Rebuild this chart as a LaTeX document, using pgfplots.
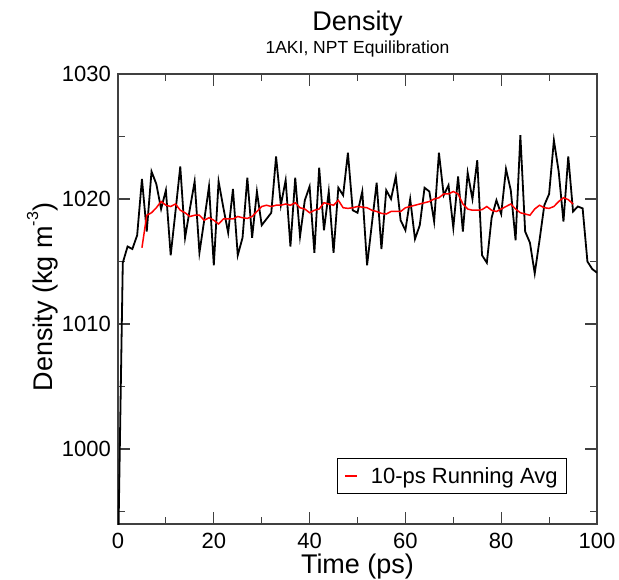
\documentclass[border=0pt]{standalone}
\usepackage{fontspec}
\setmainfont{Liberation Sans}
\usepackage{pgfplots}
\usepackage{pgfplotstable}
\pgfplotsset{compat=1.18}
\pgfplotstableread{
t rho
0 991
1 1014.9
2 1016.2
3 1016.0
4 1017.1
5 1021.6
6 1017.4
7 1022.2
8 1021.2
9 1019.2
10 1020.7
11 1015.5
12 1019.0
13 1022.6
14 1016.9
15 1019.2
16 1021.4
17 1015.7
18 1018.3
19 1021.0
20 1014.7
21 1021.4
22 1019.3
23 1017.3
24 1020.8
25 1015.5
26 1016.9
27 1021.7
28 1016.9
29 1020.6
30 1017.9
31 1018.4
32 1018.9
33 1023.4
34 1019.5
35 1021.5
36 1016.2
37 1021.7
38 1017.0
39 1019.9
40 1021.0
41 1015.7
42 1022.5
43 1017.5
44 1020.6
45 1015.7
46 1020.9
47 1020.3
48 1023.7
49 1019.1
50 1018.9
51 1020.6
52 1014.7
53 1018.0
54 1021.3
55 1016.0
56 1020.7
57 1020.0
58 1021.8
59 1018.3
60 1017.5
61 1020.0
62 1016.8
63 1017.9
64 1020.9
65 1020.6
66 1018.2
67 1023.7
68 1020.3
69 1021.1
70 1017.7
71 1021.8
72 1017.4
73 1022.1
74 1020.0
75 1023.1
76 1015.5
77 1014.9
78 1018.5
79 1019.9
80 1018.8
81 1022.4
82 1020.7
83 1016.7
84 1025.1
85 1017.4
86 1016.5
87 1014.05
88 1016.7
89 1019.5
90 1020.4
91 1024.7
92 1022.2
93 1018.2
94 1023.4
95 1019.0
96 1019.4
97 1019.25
98 1015.0
99 1014.4
100 1014.1
}\densdata
\pgfplotstableread{
t avg
5 1016.1
6 1018.7
7 1018.9
8 1019.3
9 1019.8
10 1019.5
11 1019.4
12 1019.6
13 1019.1
14 1018.9
15 1018.6
16 1018.7
17 1018.7
18 1018.3
19 1018.5
20 1018.3
21 1018.0
22 1018.4
23 1018.4
24 1018.4
25 1018.6
26 1018.5
27 1018.45
28 1018.6
29 1019.0
30 1019.4
31 1019.5
32 1019.4
33 1019.5
34 1019.5
35 1019.6
36 1019.5
37 1019.7
38 1019.3
39 1019.2
40 1018.9
41 1019.1
42 1019.2
43 1019.7
44 1019.6
45 1019.5
46 1019.9
47 1019.3
48 1019.25
49 1019.3
50 1019.4
51 1019.35
52 1019.3
53 1019.1
54 1019.0
55 1018.85
56 1018.8
57 1019.0
58 1019.0
59 1019.0
60 1019.3
61 1019.4
62 1019.5
63 1019.6
64 1019.7
65 1019.8
66 1020.0
67 1020.1
68 1020.4
69 1020.4
70 1020.6
71 1020.4
72 1019.6
73 1019.2
74 1019.1
75 1019.1
76 1019.15
77 1019.4
78 1019.1
79 1019.0
80 1019.2
81 1019.4
82 1019.6
83 1019.2
84 1018.9
85 1018.8
86 1018.7
87 1019.2
88 1019.5
89 1019.3
90 1019.25
91 1019.4
92 1019.8
93 1020.1
94 1019.95
95 1019.6
}\avgdata
\begin{document}
\begin{tikzpicture}
\useasboundingbox (-118pt,-55pt) rectangle (501pt,524pt);
\begin{axis}[
  at={(0pt,0pt)}, anchor=south west,
  width=479pt, height=450pt, scale only axis,
  xmin=0, xmax=100, ymin=994, ymax=1030,
  xtick={0,20,...,100}, minor xtick={10,30,...,90},
  ytick={1000,1010,1020,1030}, minor ytick={995,1005,1015,1025},
  tick align=inside,
  major tick length=12pt, minor tick length=7pt,
  axis line style={line width=1.2pt, black!75},
  every tick/.style={black!75, line width=1.1pt},
  tick label style={font=\fontsize{22}{22}\selectfont},
  /pgf/number format/assume math mode=true,
  /pgf/number format/set thousands separator={},
  xticklabel style={anchor=base, inner sep=0pt, yshift=-24pt},
  yticklabel style={anchor=east, inner sep=0pt, xshift=-7pt},
  xlabel={Time (ps)},
  xlabel style={at={(axis description cs:0.5,0)}, anchor=base, yshift=-49pt, font=\fontsize{27}{27}\selectfont},
  legend style={at={(1,0)}, anchor=south east, xshift=-30pt, yshift=30pt,
    draw=black, line width=0.8pt, fill=white,
    font=\fontsize{22}{22}\selectfont,
    inner xsep=7pt, inner ysep=7pt,
    column sep=11pt},
  legend image code/.code={\draw[#1, line width=1.5pt] (0pt,0pt) -- (12pt,0pt);},
  clip=true,
]
\addplot[black, line width=1.8pt, forget plot] table[x=t, y=rho] {\densdata};
\addplot[red, line width=1.5pt] table[x=t, y=avg] {\avgdata};
\addlegendentry{10-ps Running Avg}
\end{axis}
\node[anchor=base, font=\fontsize{27}{27}\selectfont] at (239.5pt,493pt) {Density};
\node[anchor=base, font=\fontsize{17.5}{17.5}\selectfont] at (239.5pt,470pt) {1AKI, NPT Equilibration};
\node[rotate=90, anchor=base, font=\fontsize{27}{27}\selectfont] at (-65pt,227pt) {Density (kg m\raisebox{0.55em}{\fontsize{16}{16}\selectfont -3})};
\end{tikzpicture}
\end{document}
